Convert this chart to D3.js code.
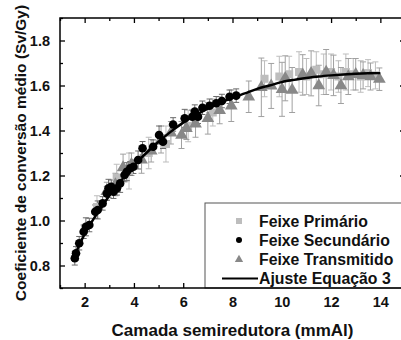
<!DOCTYPE html>
<html>
<head>
<meta charset="utf-8">
<script src="https://cdn.jsdelivr.net/npm/d3@7/dist/d3.min.js"></script>
<style>
  body { margin: 0; background: #fff; }
  text { font-family: "Liberation Sans", Arial, sans-serif; font-weight: bold; fill: #111; }
</style>
</head>
<body>
<svg id="chart"></svg>
<script>
// DATA

const secX = [1.6, 1.65, 1.78, 1.96, 2.05, 2.19, 2.43, 2.53, 2.73, 2.9, 2.97, 3.08, 3.17, 3.31, 3.44, 3.62, 3.71, 3.85, 3.98, 4.17, 4.35, 4.78, 5.02, 5.18, 5.59, 6.06, 6.37, 6.47, 6.6, 6.78, 7.07, 7.34, 7.57, 7.88, 8.15];
const secY = [0.832, 0.854, 0.899, 0.95, 0.972, 0.98, 1.039, 1.047, 1.076, 1.12, 1.143, 1.15, 1.128, 1.143, 1.165, 1.202, 1.217, 1.232, 1.239, 1.269, 1.321, 1.328, 1.38, 1.35, 1.427, 1.454, 1.461, 1.484, 1.461, 1.501, 1.51, 1.521, 1.531, 1.55, 1.555];
const secErr = [0.03, 0.03, 0.03, 0.03, 0.04, 0.03, 0.03, 0.04, 0.03, 0.03, 0.04, 0.03, 0.03, 0.03, 0.04, 0.03, 0.04, 0.03, 0.03, 0.04, 0.03, 0.03, 0.04, 0.03, 0.03, 0.04, 0.03, 0.03, 0.03, 0.03, 0.03, 0.03, 0.03, 0.03, 0.03];

const traX = [2.9, 3.25, 3.56, 3.9, 4.31, 4.7, 5.1, 5.5, 5.93, 6.13, 6.5, 7.0, 7.48, 7.95, 8.66, 9.17, 9.57, 10.01, 10.14, 10.42, 10.85, 11.19, 11.5, 11.8, 12.1, 12.4, 12.7, 13.0, 13.3, 13.6, 13.96];
const traY = [1.13, 1.16, 1.235, 1.25, 1.27, 1.31, 1.36, 1.39, 1.38, 1.41, 1.43, 1.454, 1.49, 1.51, 1.55, 1.592, 1.598, 1.583, 1.632, 1.58, 1.647, 1.654, 1.6, 1.66, 1.645, 1.6, 1.64, 1.65, 1.645, 1.64, 1.628];
const traErr = [0.04, 0.05, 0.06, 0.05, 0.06, 0.05, 0.06, 0.05, 0.06, 0.05, 0.06, 0.07, 0.06, 0.07, 0.07, 0.13, 0.1, 0.12, 0.1, 0.1, 0.09, 0.1, 0.09, 0.1, 0.09, 0.08, 0.08, 0.07, 0.06, 0.06, 0.05];

const priX = [2.5, 3.3, 3.8, 4.6, 5.3, 6.2, 7.2, 9.3, 9.9, 10.3, 10.7, 11.0, 11.4, 11.7, 12.0, 12.3, 12.6, 12.9, 13.2, 13.5, 13.8];
const priY = [1.06, 1.19, 1.22, 1.3, 1.34, 1.42, 1.48, 1.63, 1.64, 1.65, 1.66, 1.64, 1.67, 1.65, 1.66, 1.64, 1.66, 1.65, 1.64, 1.655, 1.645];
const priErr = [0.05, 0.06, 0.08, 0.07, 0.08, 0.07, 0.06, 0.08, 0.09, 0.08, 0.09, 0.08, 0.08, 0.09, 0.08, 0.07, 0.08, 0.07, 0.07, 0.06, 0.06];

const fitX = [1.5, 2, 2.5, 3, 3.5, 4, 4.5, 5, 5.5, 6, 6.5, 7, 7.5, 8, 8.5, 9, 9.5, 10, 10.5, 11, 11.5, 12, 12.5, 13, 13.5, 14];
const fitY = [0.82, 0.94, 1.03, 1.11, 1.18, 1.245, 1.30, 1.35, 1.395, 1.435, 1.468, 1.497, 1.523, 1.545, 1.565, 1.585, 1.60, 1.615, 1.625, 1.633, 1.64, 1.645, 1.649, 1.652, 1.654, 1.655];

const xMajor = [2, 4, 6, 8, 10, 12, 14];
const xMinor = [1, 3, 5, 7, 9, 11, 13, 15];
const yMajor = [0.8, 1.0, 1.2, 1.4, 1.6, 1.8];
const yMinor = [0.7, 0.9, 1.1, 1.3, 1.5, 1.7, 1.9];

const legendLabels = ["Feixe Primário", "Feixe Secundário", "Feixe Transmitido", "Ajuste Equação 3"];

// SETUP

const width = 401;
const height = 340;
const mLeft = 60, mRight = 405, mTop = 18, mBottom = 288;

const svg = d3.select("#chart")
  .attr("width", width)
  .attr("height", height);

const x = d3.scaleLinear().domain([1, 15]).range([mLeft, mRight]);
const y = d3.scaleLinear().domain([0.7, 1.9]).range([mBottom, mTop]);

const plot = svg.append("g");

function zipSeries(xs, ys, es) {
  return xs.map((v, i) => ({ x: v, y: ys[i], e: es[i] }));
}

const primario = zipSeries(priX, priY, priErr);
const secundario = zipSeries(secX, secY, secErr);
const transmitido = zipSeries(traX, traY, traErr);
const fit = fitX.map((v, i) => ({ x: v, y: fitY[i] }));

// ERROR BARS

function errorBars(data, color) {
  const g = plot.append("g")
    .attr("stroke", color)
    .attr("stroke-width", 1)
    .attr("fill", "none");

  data.forEach(d => {
    const cx = x(d.x);
    g.append("line")
      .attr("x1", cx).attr("x2", cx)
      .attr("y1", y(d.y - d.e)).attr("y2", y(d.y + d.e));
    [d.y - d.e, d.y + d.e].forEach(v => {
      g.append("line")
        .attr("x1", cx - 3).attr("x2", cx + 3)
        .attr("y1", y(v)).attr("y2", y(v));
    });
  });
}

errorBars(primario, "#bdbdbd");
errorBars(transmitido, "#a0a0a0");
errorBars(secundario, "#6a6a6a");

// MARKERS

plot.append("g")
  .selectAll("rect")
  .data(primario)
  .enter()
  .append("rect")
  .attr("x", d => x(d.x) - 4)
  .attr("y", d => y(d.y) - 4)
  .attr("width", 8)
  .attr("height", 8)
  .attr("fill", "#bdbdbd");

const tri = d3.symbol().type(d3.symbolTriangle).size(70);

plot.append("g")
  .selectAll("path")
  .data(transmitido)
  .enter()
  .append("path")
  .attr("d", tri)
  .attr("transform", d => `translate(${x(d.x)},${y(d.y)})`)
  .attr("fill", "#888");

// FIT LINE

const line = d3.line()
  .x(d => x(d.x))
  .y(d => y(d.y))
  .curve(d3.curveMonotoneX);

plot.append("path")
  .datum(fit)
  .attr("d", line)
  .attr("fill", "none")
  .attr("stroke", "#000")
  .attr("stroke-width", 2.5);

plot.append("g")
  .selectAll("circle")
  .data(secundario)
  .enter()
  .append("circle")
  .attr("cx", d => x(d.x))
  .attr("cy", d => y(d.y))
  .attr("r", 4.3)
  .attr("fill", "#000");

// AXES

function styleAxis(g) {
  g.select(".domain").remove();
  g.selectAll("line").attr("stroke", "#000").attr("stroke-width", 1.3);
  g.selectAll("text")
    .style("font-size", "14.5px")
    .style("font-weight", "bold")
    .attr("fill", "#111");
}

svg.append("g")
  .attr("transform", `translate(0,${mBottom})`)
  .call(d3.axisBottom(x).tickValues(xMajor).tickSize(-5).tickPadding(9).tickFormat(d3.format("d")))
  .call(styleAxis);

svg.append("g")
  .attr("transform", `translate(0,${mBottom})`)
  .call(d3.axisBottom(x).tickValues(xMinor).tickSize(-3).tickFormat(""))
  .call(styleAxis);

svg.append("g")
  .attr("transform", `translate(0,${mTop})`)
  .call(d3.axisTop(x).tickValues(xMajor).tickSize(-5).tickFormat(""))
  .call(styleAxis);

svg.append("g")
  .attr("transform", `translate(0,${mTop})`)
  .call(d3.axisTop(x).tickValues(xMinor).tickSize(-3).tickFormat(""))
  .call(styleAxis);

svg.append("g")
  .attr("transform", `translate(${mLeft},0)`)
  .call(d3.axisLeft(y).tickValues(yMajor).tickSize(-5).tickPadding(10).tickFormat(d3.format(".1f")))
  .call(styleAxis);

svg.append("g")
  .attr("transform", `translate(${mLeft},0)`)
  .call(d3.axisLeft(y).tickValues(yMinor).tickSize(-3).tickFormat(""))
  .call(styleAxis);

svg.append("g")
  .attr("transform", `translate(${mRight},0)`)
  .call(d3.axisRight(y).tickValues(yMajor).tickSize(-5).tickFormat(""))
  .call(styleAxis);

svg.append("g")
  .attr("transform", `translate(${mRight},0)`)
  .call(d3.axisRight(y).tickValues(yMinor).tickSize(-3).tickFormat(""))
  .call(styleAxis);

// LEGEND

const legend = svg.append("g");

legend.append("rect")
  .attr("x", 205)
  .attr("y", 203)
  .attr("width", 205)
  .attr("height", mBottom - 203)
  .attr("fill", "#fff")
  .attr("stroke", "#555")
  .attr("stroke-width", 1);

const rowY = [221, 240, 259.5, 278.5];
const symX = 239;

legend.append("rect")
  .attr("x", symX - 3).attr("y", rowY[0] - 3)
  .attr("width", 6).attr("height", 6)
  .attr("fill", "#bdbdbd");

legend.append("circle")
  .attr("cx", symX).attr("cy", rowY[1])
  .attr("r", 3)
  .attr("fill", "#000");

legend.append("path")
  .attr("d", d3.symbol().type(d3.symbolTriangle).size(30))
  .attr("transform", `translate(${symX},${rowY[2]})`)
  .attr("fill", "#888");

legend.append("line")
  .attr("x1", 222).attr("x2", 258)
  .attr("y1", rowY[3]).attr("y2", rowY[3])
  .attr("stroke", "#000")
  .attr("stroke-width", 2);

legend.selectAll("text.leg")
  .data(legendLabels)
  .enter()
  .append("text")
  .attr("class", "leg")
  .attr("x", 259)
  .attr("y", (d, i) => rowY[i] + 5.5)
  .style("font-size", "15.8px")
  .text(d => d);

// FRAME

svg.append("rect")
  .attr("x", mLeft)
  .attr("y", mTop)
  .attr("width", mRight - mLeft)
  .attr("height", mBottom - mTop)
  .attr("fill", "none")
  .attr("stroke", "#000")
  .attr("stroke-width", 1.5);

// AXIS TITLES

svg.append("text")
  .attr("x", (mLeft + mRight) / 2)
  .attr("y", 336)
  .attr("text-anchor", "middle")
  .style("font-size", "17px")
  .text("Camada semiredutora (mmAl)");

svg.append("text")
  .attr("transform", `translate(26,${(mTop + mBottom) / 2}) rotate(-90)`)
  .attr("text-anchor", "middle")
  .style("font-size", "15.5px")
  .text("Coeficiente de conversão médio (Sv/Gy)");
</script>
</body>
</html>
